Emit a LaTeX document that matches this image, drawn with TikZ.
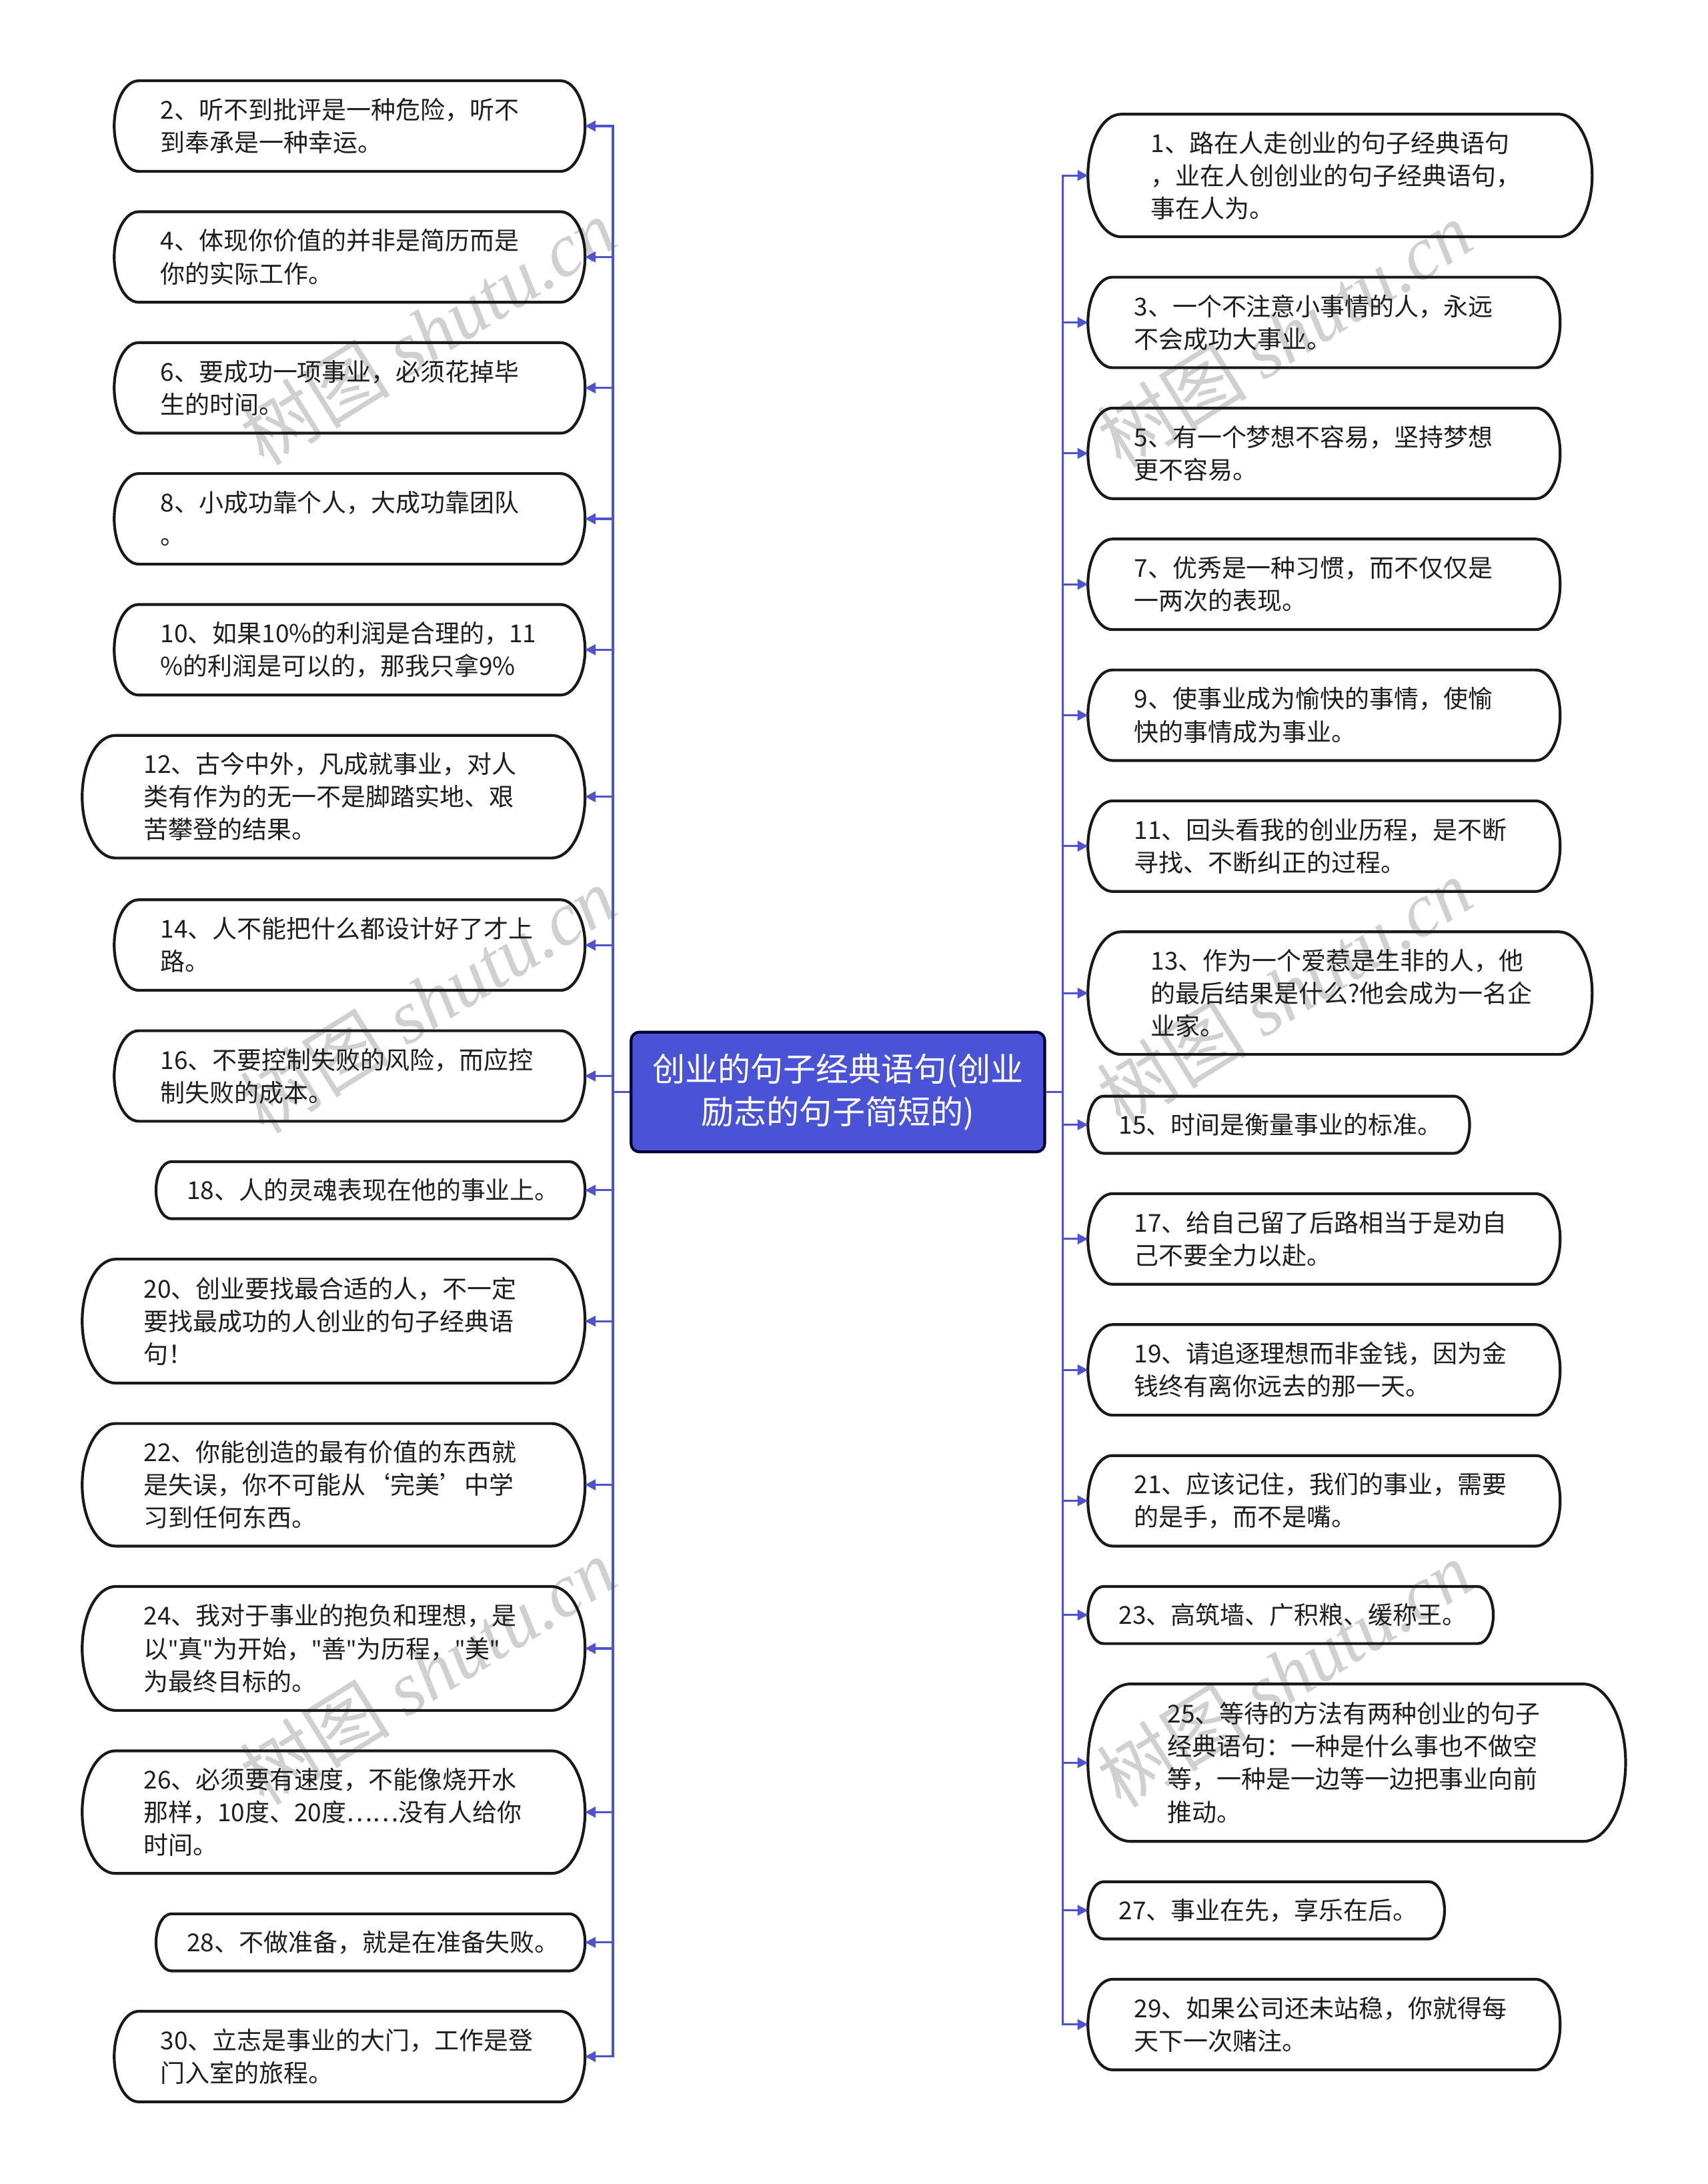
\documentclass[tikz,border=0pt]{standalone}
\usepackage{fontspec}
\setmainfont{Noto Sans CJK SC}
\newfontfamily\wmserif{Liberation Serif}
\newfontfamily\latinq{Noto Sans}
\newcommand\dq{{\latinq\char34}}
\usetikzlibrary{arrows.meta}
\definecolor{linkblue}{RGB}{78,84,206}
\definecolor{rootfill}{RGB}{74,82,214}
\definecolor{txtcol}{RGB}{30,30,30}
\definecolor{wmcol}{RGB}{208,208,208}
\tikzset{
  boxanchor/.style={inner sep=0pt, outer sep=0pt, draw=none, rectangle},
  capline/.style={draw=black!90, line width=2pt},
  itemtext/.style={align=left, font=\fontsize{17.7}{23.5}\selectfont, text=txtcol, inner sep=0pt},
  conn/.style={draw=linkblue, line width=1.5pt, -{Triangle[length=7.5pt,width=7.5pt]}},
  rootbox/.style={fill=rootfill, draw=black!80!blue, line width=2pt, rounded corners=6pt,
    text=white, align=center, font=\fontsize{23.5}{31}\selectfont, inner sep=0pt},
  wmark/.style={text=wmcol, font=\fontsize{54}{54}\selectfont, inner sep=0pt}
}
\newcommand\itembox[7]{%
  \node[boxanchor, minimum width={(#4-#2)*1pt}, minimum height={(#5-#3)*1pt}] (#1) at ({(#2+#4)/2},{(#3+#5)/2}) {};
  \draw[capline] ({#2+0.27*(#5-#3)},#3) -- ({#4-0.27*(#5-#3)},#3)
    arc[start angle=90,end angle=-90,x radius={0.27*(#5-#3)*1pt},y radius={0.5*(#5-#3)*1pt}]
    -- ({#2+0.27*(#5-#3)},#5)
    arc[start angle=270,end angle=90,x radius={0.27*(#5-#3)*1pt},y radius={0.5*(#5-#3)*1pt}]
    -- cycle;
  \node[itemtext, anchor=west] (#1t) at (#6,{(#3+#5)/2}) {#7};
}
\begin{document}
\begin{tikzpicture}[x=1pt,y=-1pt]
\useasboundingbox[fill=white] (0,0) rectangle (1226,1568);

% watermarks
\node[wmark, rotate=32] (wm1) at (307,238) {树图 {\wmserif\itshape shutu.cn}};
\node[wmark, rotate=32] (wm2) at (922,240) {树图 {\wmserif\itshape shutu.cn}};
\node[wmark, rotate=32] (wm3) at (307,718) {树图 {\wmserif\itshape shutu.cn}};
\node[wmark, rotate=32] (wm4) at (922,712) {树图 {\wmserif\itshape shutu.cn}};
\node[wmark, rotate=32] (wm5) at (307,1200) {树图 {\wmserif\itshape shutu.cn}};
\node[wmark, rotate=32] (wm6) at (922,1202) {树图 {\wmserif\itshape shutu.cn}};

% root
\node[rootbox, minimum width=297pt, minimum height=86pt] (root) at (601.5,784) {创业的句子经典语句(创业\\励志的句子简短的)};

% left items
\itembox{n2}{82}{58}{420}{123}{115}{2、听不到批评是一种危险，听不\\到奉承是一种幸运。}
\itembox{n4}{82}{152}{420}{217}{115}{4、体现你价值的并非是简历而是\\你的实际工作。}
\itembox{n6}{82}{246}{420}{311}{115}{6、要成功一项事业，必须花掉毕\\生的时间。}
\itembox{n8}{82}{340}{420}{405}{115}{8、小成功靠个人，大成功靠团队\\。}
\itembox{n10}{82}{434}{420}{499}{115}{10、如果10\%的利润是合理的，11\\\%的利润是可以的，那我只拿9\%}
\itembox{n12}{59}{528}{420}{616}{103}{12、古今中外，凡成就事业，对人\\类有作为的无一不是脚踏实地、艰\\苦攀登的结果。}
\itembox{n14}{82}{646}{420}{711}{115}{14、人不能把什么都设计好了才上\\路。}
\itembox{n16}{82}{740}{420}{805}{115}{16、不要控制失败的风险，而应控\\制失败的成本。}
\itembox{n18}{112}{834}{420}{875}{134}{18、人的灵魂表现在他的事业上。}
\itembox{n20}{59}{904}{420}{993}{103}{20、创业要找最合适的人，不一定\\要找最成功的人创业的句子经典语\\句！}
\itembox{n22}{59}{1022}{420}{1110}{103}{22、你能创造的最有价值的东西就\\是失误，你不可能从‘完美’中学\\习到任何东西。}
\itembox{n24}{59}{1139}{420}{1228}{103}{24、我对于事业的抱负和理想，是\\以\dq 真\dq 为开始，\dq 善\dq 为历程，\dq 美\dq\\为最终目标的。}
\itembox{n26}{59}{1257}{420}{1345}{103}{26、必须要有速度，不能像烧开水\\那样，10度、20度……没有人给你\\时间。}
\itembox{n28}{112}{1374}{420}{1415}{134}{28、不做准备，就是在准备失败。}
\itembox{n30}{82}{1444}{420}{1509}{115}{30、立志是事业的大门，工作是登\\门入室的旅程。}

% right items
\itembox{n1}{781}{82}{1143}{170}{826}{1、路在人走创业的句子经典语句\\，业在人创创业的句子经典语句，\\事在人为。}
\itembox{n3}{781}{199}{1120}{264}{814}{3、一个不注意小事情的人，永远\\不会成功大事业。}
\itembox{n5}{781}{293}{1120}{358}{814}{5、有一个梦想不容易，坚持梦想\\更不容易。}
\itembox{n7}{781}{387}{1120}{452}{814}{7、优秀是一种习惯，而不仅仅是\\一两次的表现。}
\itembox{n9}{781}{481}{1120}{546}{814}{9、使事业成为愉快的事情，使愉\\快的事情成为事业。}
\itembox{n11}{781}{575}{1120}{640}{814}{11、回头看我的创业历程，是不断\\寻找、不断纠正的过程。}
\itembox{n13}{781}{669}{1143}{757}{826}{13、作为一个爱惹是生非的人，他\\的最后结果是什么?他会成为一名企\\业家。}
\itembox{n15}{781}{787}{1055}{828}{803}{15、时间是衡量事业的标准。}
\itembox{n17}{781}{857}{1120}{922}{814}{17、给自己留了后路相当于是劝自\\己不要全力以赴。}
\itembox{n19}{781}{951}{1120}{1016}{814}{19、请追逐理想而非金钱，因为金\\钱终有离你远去的那一天。}
\itembox{n21}{781}{1045}{1120}{1110}{814}{21、应该记住，我们的事业，需要\\的是手，而不是嘴。}
\itembox{n23}{781}{1139}{1072}{1180}{803}{23、高筑墙、广积粮、缓称王。}
\itembox{n25}{781}{1209}{1167}{1322}{838}{25、等待的方法有两种创业的句子\\经典语句：一种是什么事也不做空\\等，一种是一边等一边把事业向前\\推动。}
\itembox{n27}{781}{1351}{1037}{1392}{803}{27、事业在先，享乐在后。}
\itembox{n29}{781}{1421}{1120}{1486}{814}{29、如果公司还未站稳，你就得每\\天下一次赌注。}

% connectors left
\foreach \n in {n2,n4,n6,n8,n10,n12,n14,n16,n18,n20,n22,n24,n26,n28,n30}
  \draw[conn] (root.west) -- ++(-12,0) |- (\n.east);
% connectors right
\foreach \n in {n1,n3,n5,n7,n9,n11,n13,n15,n17,n19,n21,n23,n25,n27,n29}
  \draw[conn] (root.east) -- ++(12,0) |- (\n.west);
\end{tikzpicture}
\end{document}
